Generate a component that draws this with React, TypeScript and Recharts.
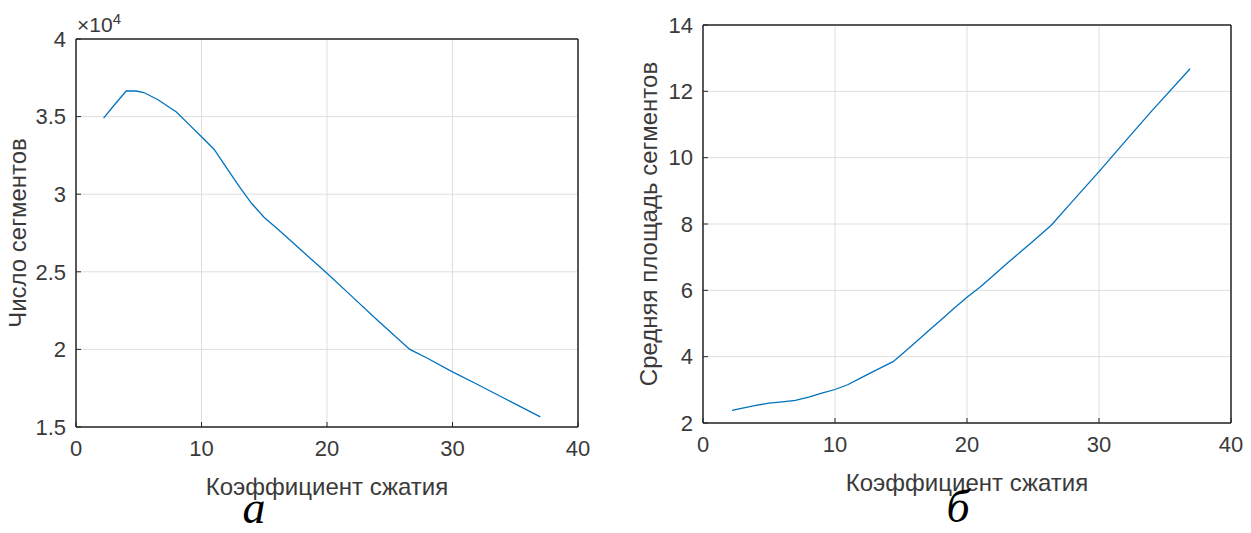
import React from "react";
import { CartesianGrid, Label, Line, LineChart, XAxis, YAxis } from "recharts";

// left panel (а): segment count, values in units of 1e4
const ratioA = [2.2, 3, 4, 4.8, 5.4, 6.5, 8, 9, 10, 11, 12, 13, 14, 15, 16, 18, 20, 22, 24, 26.6, 28, 30, 32, 34, 37];
const countA = [
  3.49, 3.57, 3.665, 3.665, 3.655, 3.61, 3.53, 3.45, 3.37, 3.29, 3.17, 3.05, 2.94, 2.85, 2.78, 2.635, 2.49, 2.34,
  2.19, 2.0, 1.943, 1.855, 1.774, 1.69, 1.565,
];

// right panel (б): mean segment area
const ratioB = [2.2, 3, 4, 5, 6, 7, 8, 9, 10, 11, 12, 13, 14.4, 15, 16, 17, 18, 19, 20, 21, 22, 23, 24, 25, 26.4, 28, 30, 32, 34, 36.9];
const areaB = [
  2.38, 2.45, 2.53, 2.6, 2.64, 2.68, 2.78, 2.9, 3.01, 3.16, 3.37, 3.57, 3.85, 4.05, 4.4, 4.75, 5.1, 5.45, 5.79, 6.1,
  6.45, 6.8, 7.14, 7.48, 7.97, 8.69, 9.58, 10.5, 11.41, 12.68,
];

const xTicks = [0, 10, 20, 30, 40];
const yTicksA = [1.5, 2, 2.5, 3, 3.5, 4];
const yTicksB = [2, 4, 6, 8, 10, 12, 14];

const xTitle = "Коэффициент сжатия";
const yTitleA = "Число сегментов";
const yTitleB = "Средняя площадь сегментов";

const dataA = ratioA.map((x, i) => ({ x, v: countA[i] }));
const dataB = ratioB.map((x, i) => ({ x, v: areaB[i] }));

const FONT = "'Liberation Sans', Arial, sans-serif";
const AXIS = "#262626";
const TEXT = "#3a3a3a";
const TICK = { fill: TEXT, fontSize: 22, fontFamily: FONT };
const LINE = "#0072BD";

const YTitle = ({ viewBox, text, cx }: any) => {
  const y = viewBox.y + viewBox.height / 2;
  return (
    <text
      x={viewBox.x + cx}
      y={y}
      transform={`rotate(-90 ${viewBox.x + cx} ${y})`}
      textAnchor="middle"
      dominantBaseline="central"
      fill={TEXT}
      fontSize={24}
      fontFamily={FONT}
    >
      {text}
    </text>
  );
};

type PanelProps = {
  data: { x: number; v: number }[];
  yTicks: number[];
  yTitle: string;
  width: number;
  height: number;
  margin: { top: number; right: number; left: number; bottom: number };
  yWidth: number;
  titleX: number;
};

const Panel = ({ data, yTicks, yTitle, width, height, margin, yWidth, titleX }: PanelProps) => {
  const yDomain = [yTicks[0], yTicks[yTicks.length - 1]];
  return (
    <LineChart width={width} height={height} data={data} margin={margin}>
      <CartesianGrid stroke="#dedede" strokeWidth={1} />
      <XAxis
        dataKey="x"
        type="number"
        domain={[0, 40]}
        ticks={xTicks}
        height={83}
        tick={TICK}
        tickSize={-5}
        tickMargin={18}
        axisLine={{ stroke: AXIS, strokeWidth: 1.5 }}
        tickLine={{ stroke: AXIS }}
      >
        <Label value={xTitle} position="insideBottom" offset={15} fill={TEXT} fontSize={24} fontFamily={FONT} />
      </XAxis>
      <XAxis
        xAxisId="top"
        orientation="top"
        dataKey="x"
        type="number"
        domain={[0, 40]}
        ticks={xTicks}
        height={1}
        tick={false}
        tickSize={-5}
        axisLine={{ stroke: AXIS, strokeWidth: 1.5 }}
        tickLine={{ stroke: AXIS }}
      />
      <YAxis
        type="number"
        domain={yDomain}
        ticks={yTicks}
        width={yWidth}
        tick={TICK}
        tickSize={-5}
        tickMargin={15}
        axisLine={{ stroke: AXIS, strokeWidth: 1.5 }}
        tickLine={{ stroke: AXIS }}
        label={<YTitle text={yTitle} cx={titleX} />}
      />
      <YAxis
        yAxisId="right"
        orientation="right"
        type="number"
        domain={yDomain}
        ticks={yTicks}
        width={1}
        tick={false}
        tickSize={-5}
        axisLine={{ stroke: AXIS, strokeWidth: 1.5 }}
        tickLine={{ stroke: AXIS }}
      />
      <Line type="linear" dataKey="v" stroke={LINE} strokeWidth={1.3} dot={false} isAnimationActive={false} />
    </LineChart>
  );
};

const caption: React.CSSProperties = {
  position: "absolute",
  width: 60,
  textAlign: "center",
  fontFamily: "'Liberation Serif', 'Times New Roman', serif",
  fontStyle: "italic",
  fontSize: 46,
  color: "#000",
  lineHeight: "32px",
  height: 32,
};

export default function App() {
  return (
    <div style={{ position: "absolute", left: 0, top: 0, width: 1251, height: 533, background: "#fff", overflow: "hidden" }}>
      <div style={{ position: "absolute", left: 0, top: 0 }}>
        <Panel
          data={dataA}
          yTicks={yTicksA}
          yTitle={yTitleA}
          width={600}
          height={510}
          margin={{ top: 38, right: 21, left: 0, bottom: 0 }}
          yWidth={76}
          titleX={17}
        />
      </div>
      <div style={{ position: "absolute", left: 77, top: 10, fontFamily: FONT, fontSize: 21, color: TEXT }}>
        ×10<sup style={{ fontSize: 15 }}>4</sup>
      </div>
      <div style={{ position: "absolute", left: 620, top: 0 }}>
        <Panel
          data={dataB}
          yTicks={yTicksB}
          yTitle={yTitleB}
          width={631}
          height={506}
          margin={{ top: 24, right: 19, left: 0, bottom: 0 }}
          yWidth={83}
          titleX={28}
        />
      </div>
      <div style={{ ...caption, left: 224, top: 492 }}>а</div>
      <div style={{ ...caption, left: 928, top: 491 }}>б</div>
    </div>
  );
}
